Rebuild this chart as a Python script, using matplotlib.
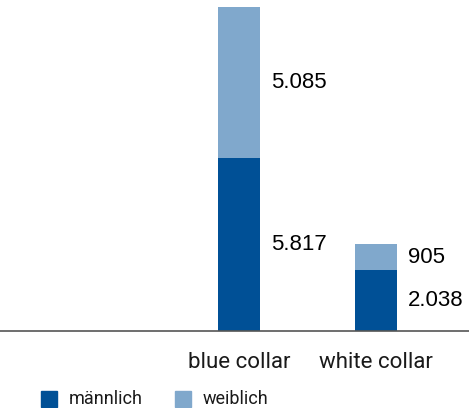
import matplotlib.pyplot as plt
from matplotlib.patches import Rectangle
import numpy as np

# Data
categories = ['', 'blue collar', 'white collar']
maennlich = [0, 5817, 2038]
weiblich = [0, 5085, 905]
labels_m = ['', '5.817', '2.038']
labels_w = ['', '5.085', '905']
series_names = ['männlich', 'weiblich']

col_m = '#005096'
col_w = '#80A8CC'

W, H = 469, 408
fig = plt.figure(figsize=(W / 100, H / 100), dpi=100)
ax = fig.add_axes([0, 1 - 331 / H, 1, 331 / H])

x = np.arange(len(categories))
width = 0.307
ax.bar(x, maennlich, width, color=col_m, label=series_names[0])
ax.bar(x, weiblich, width, bottom=maennlich, color=col_w, label=series_names[1])

# value labels right of bars, centred in each segment
for i in range(len(categories)):
    if maennlich[i] == 0:
        continue
    ax.text(x[i] + width / 2 + 0.08, maennlich[i] / 2, labels_m[i],
            va='center', ha='left', fontsize=16, family='Liberation Sans')
    ax.text(x[i] + width / 2 + 0.08, maennlich[i] + weiblich[i] / 2, labels_w[i],
            va='center', ha='left', fontsize=16, family='Liberation Sans')

ax.set_xlim(-0.745, 2.68)
ax.set_ylim(0, 11140)
ax.set_xticks(x)
ax.set_xticklabels(categories, fontsize=16, family='Roboto', color='#1a1a1a')
ax.tick_params(axis='x', length=0, pad=15)
ax.set_yticks([])
for s in ['top', 'right', 'left']:
    ax.spines[s].set_visible(False)
ax.spines['bottom'].set_color('#555555')
ax.spines['bottom'].set_linewidth(1.2)

# legend drawn by hand (squares + text), pixel positions from the reference
for name, col, sx, tx in [(series_names[0], col_m, 41, 69), (series_names[1], col_w, 175, 203)]:
    fig.patches.append(Rectangle((sx / W, 1 - 407 / H), 16 / W, 16 / H,
                                 transform=fig.transFigure, color=col, figure=fig))
    fig.text(tx / W, 1 - 399 / H, name, va='center', ha='left',
             fontsize=13, family='Roboto', color='#1a1a1a')

fig.savefig('out.png', dpi=100)
